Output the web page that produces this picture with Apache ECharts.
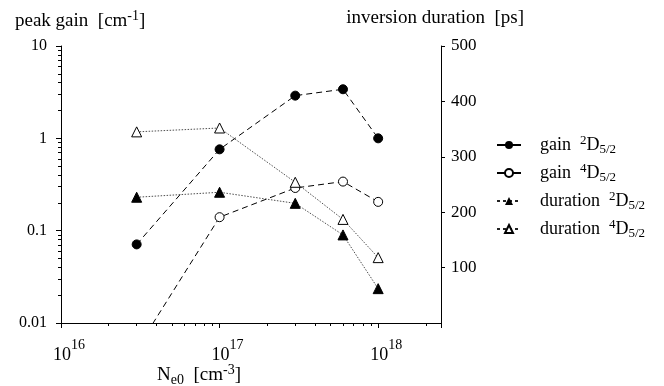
<!DOCTYPE html>
<html><head><meta charset="utf-8">
<script src="https://cdn.jsdelivr.net/npm/echarts@6/dist/echarts.min.js"></script>
<style>html,body{margin:0;padding:0;background:#fff}#c{width:664px;height:386px}</style>
</head><body><div id="c"></div>
<script>
// ---- data ----
const densities = [3e16, 1e17, 3e17, 6e17, 1e18];
const gain2D = [0.071, 0.76, 2.9, 3.4, 1.0];
const gain4D = [0.0052, 0.14, 0.29, 0.34, 0.205];
const duration2D = [227, 236, 216, 159, 62];
const duration4D = [345, 352, 254, 187, 118];

const xTickValues = [1e16, 1e17, 1e18];
const xTickExponents = ['16', '17', '18'];
const yLeftTicks = [0.01, 0.1, 1, 10];
const yLeftTickLabels = ['0.01', '0.1', '1', '10'];
const yRightTicks = [100, 200, 300, 400, 500];

const seriesNames = ['gain 2D5/2', 'gain 4D5/2', 'duration 2D5/2', 'duration 4D5/2'];
const legendWords = ['gain', 'gain', 'duration', 'duration'];
const legendSups = ['2', '4', '2', '4'];

// ---- helpers ----
const FONT = '"Liberation Serif", "DejaVu Serif", serif';
const X_MIN = 1e16, X_MAX = 2.49e18, Y_MIN = 0.01, Y_MAX = 10;
// exponent positions (log10) of the minor decade ticks 2..9
function minorLogExps(lo, hi) {
  const out = [];
  for (let e = Math.floor(Math.log10(lo)); e <= Math.ceil(Math.log10(hi)); e++) {
    for (let m = 2; m <= 9; m++) {
      const v = m * Math.pow(10, e);
      if (v > lo && v < hi) out.push(Math.log10(v));
    }
  }
  return out;
}
const pairs = (xs, ys) => xs.map((x, i) => [x, ys[i]]);

const chart = echarts.init(document.getElementById('c'), null, {renderer: 'canvas'});
const black = '#000';
const GRID = {left: 61, right: 223, top: 46, bottom: 63, containLabel: false};

const option = {
  backgroundColor: '#fff',
  animation: false,
  textStyle: {fontFamily: FONT, color: black},
  grid: [Object.assign({}, GRID), Object.assign({}, GRID)],
  xAxis: [
    {
      type: 'log', gridIndex: 0,
      min: X_MIN, max: X_MAX, logBase: 10,
      axisLine: {show: true, onZero: false, lineStyle: {color: black, width: 1}},
      axisTick: {show: true, inside: false, length: 5, lineStyle: {color: black}},
      axisLabel: {
        customValues: xTickValues,
        margin: 15,
        color: black,
        formatter: v => {
          const i = xTickValues.findIndex(t => Math.abs(Math.log10(t) - Math.log10(v)) < 1e-6);
          return '{sp|}{b|10}{s|' + (i >= 0 ? xTickExponents[i] : '') + '}';
        },
        rich: {
          sp: {width: 16, fontSize: 18, lineHeight: 26},
          b: {fontSize: 18, fontFamily: FONT, color: black, lineHeight: 26, verticalAlign: 'bottom'},
          s: {fontSize: 14, fontFamily: FONT, color: black, verticalAlign: 'top'}
        }
      },
      splitLine: {show: false}
    },
    {
      type: 'value', gridIndex: 1, position: 'bottom',
      min: Math.log10(X_MIN), max: Math.log10(X_MAX),
      axisLine: {show: false, onZero: false},
      axisLabel: {show: false},
      splitLine: {show: false},
      axisTick: {show: true, inside: false, length: 3, lineStyle: {color: black},
        customValues: minorLogExps(X_MIN, X_MAX)}
    }
  ],
  yAxis: [
    {
      type: 'log', gridIndex: 0,
      min: Y_MIN, max: Y_MAX, logBase: 10,
      position: 'left',
      axisLine: {show: true, onZero: false, lineStyle: {color: black, width: 1}},
      axisTick: {show: true, inside: false, length: 5, lineStyle: {color: black}},
      axisLabel: {
        customValues: yLeftTicks,
        margin: 14,
        color: black,
        fontSize: 16,
        fontFamily: FONT,
        formatter: v => {
          const i = yLeftTicks.findIndex(t => Math.abs(Math.log10(t) - Math.log10(v)) < 1e-6);
          return i >= 0 ? yLeftTickLabels[i] : '';
        }
      },
      splitLine: {show: false}
    },
    {
      type: 'value', gridIndex: 0,
      min: 0, max: 500, interval: 100,
      position: 'right',
      axisLine: {show: true, onZero: false, lineStyle: {color: black, width: 1}},
      axisTick: {show: true, inside: false, length: 4, lineStyle: {color: black},
        customValues: yRightTicks},
      axisLabel: {
        customValues: yRightTicks,
        margin: 10,
        color: black,
        fontSize: 17,
        fontFamily: FONT
      },
      splitLine: {show: false}
    },
    {
      type: 'value', gridIndex: 1, position: 'left',
      min: Math.log10(Y_MIN), max: Math.log10(Y_MAX),
      axisLine: {show: false, onZero: false},
      axisLabel: {show: false},
      splitLine: {show: false},
      axisTick: {show: true, inside: false, length: 3, lineStyle: {color: black},
        customValues: minorLogExps(Y_MIN, Y_MAX)}
    }
  ],
  legend: {
    orient: 'vertical',
    left: 491,
    top: 129,
    itemWidth: 24,
    itemHeight: 10,
    itemGap: 6,
    data: [
      {name: seriesNames[0], lineStyle: {type: 'solid'}},
      {name: seriesNames[1], lineStyle: {type: 'solid'}},
      {name: seriesNames[2], lineStyle: {type: [3, 3]}},
      {name: seriesNames[3], lineStyle: {type: [3, 3]}}
    ],
    formatter: name => {
      const i = seriesNames.indexOf(name);
      return '{sp|}{t|' + legendWords[i] + '  }{sup|' + legendSups[i] + '}{t|D}{sub|5/2}';
    },
    textStyle: {
      color: black,
      fontFamily: FONT,
      fontSize: 18,
      rich: {
        sp: {width: 14, fontSize: 18, lineHeight: 22},
        t: {fontSize: 18, fontFamily: FONT, color: black, lineHeight: 22},
        sup: {fontSize: 13, fontFamily: FONT, color: black, verticalAlign: 'top'},
        sub: {fontSize: 13, fontFamily: FONT, color: black, verticalAlign: 'bottom'}
      }
    }
  },
  graphic: [
    {
      type: 'text', left: 15, top: 9,
      style: {
        text: '{t|peak gain  [cm}{sup|-1}{t|]}',
        rich: {
          t: {fontSize: 19, fontFamily: FONT, fill: black, lineHeight: 24},
          sup: {fontSize: 14, fontFamily: FONT, fill: black, verticalAlign: 'top'}
        }
      }
    },
    {
      type: 'text', right: 140, top: 9,
      style: {
        text: '{t|inversion duration  [ps]}',
        rich: {t: {fontSize: 19, fontFamily: FONT, fill: black, lineHeight: 24}}
      }
    },
    {
      type: 'text', left: 157, top: 363,
      style: {
        text: '{t|N}{sub|e0}{t|  [cm}{sup|-3}{t|]}',
        rich: {
          t: {fontSize: 19, fontFamily: FONT, fill: black, lineHeight: 24},
          sup: {fontSize: 14, fontFamily: FONT, fill: black, verticalAlign: 'top'},
          sub: {fontSize: 14, fontFamily: FONT, fill: black, verticalAlign: 'bottom'}
        }
      }
    }
  ],
  series: [
    {
      name: seriesNames[0], type: 'line', xAxisIndex: 0, yAxisIndex: 0, clip: true,
      data: pairs(densities, gain2D),
      symbol: 'circle', symbolSize: 9,
      itemStyle: {color: black, borderColor: black},
      lineStyle: {color: black, width: 1, type: [6, 4]}
    },
    {
      name: seriesNames[1], type: 'line', xAxisIndex: 0, yAxisIndex: 0, clip: true,
      data: pairs(densities, gain4D),
      symbol: 'circle', symbolSize: 9,
      itemStyle: {color: '#fff', borderColor: black, borderWidth: 1},
      lineStyle: {color: black, width: 1, type: [6, 4]}
    },
    {
      name: seriesNames[2], type: 'line', xAxisIndex: 0, yAxisIndex: 1, clip: true,
      data: pairs(densities, duration2D),
      symbol: 'triangle', symbolSize: 10,
      itemStyle: {color: black, borderColor: black},
      lineStyle: {color: '#222', width: 0.8, type: [1.5, 1.5]}
    },
    {
      name: seriesNames[3], type: 'line', xAxisIndex: 0, yAxisIndex: 1, clip: true,
      data: pairs(densities, duration4D),
      symbol: 'triangle', symbolSize: 10,
      itemStyle: {color: '#fff', borderColor: black, borderWidth: 1},
      lineStyle: {color: '#222', width: 0.8, type: [1.5, 1.5]}
    }
  ]
};
chart.setOption(option);
</script>
</body></html>
